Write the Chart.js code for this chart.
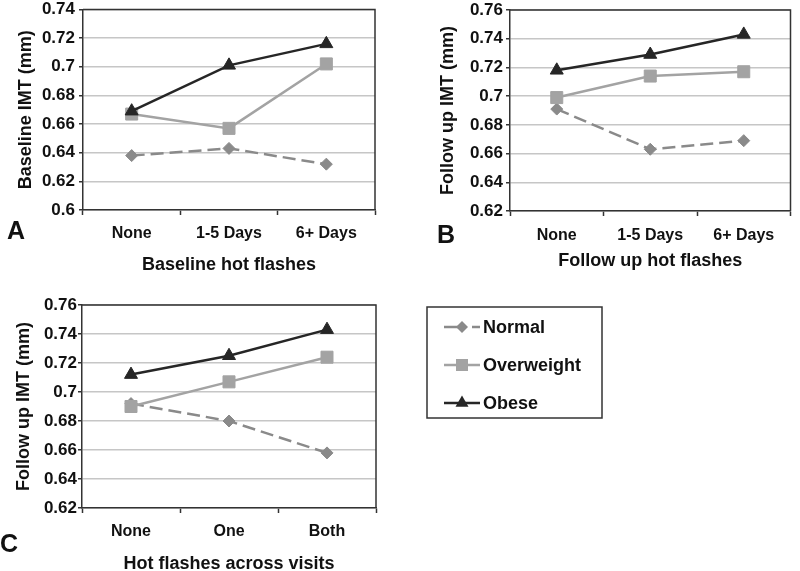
<!DOCTYPE html>
<html><head><meta charset="utf-8">
<script src="https://cdn.jsdelivr.net/npm/chart.js@4.4.1/dist/chart.umd.min.js"></script>
<style>
html,body{margin:0;padding:0;background:#fff;width:800px;height:571px;overflow:hidden;position:relative;}
canvas{position:absolute;display:block;}
</style></head><body>
<canvas id="cA" width="400" height="290" style="left:0;top:0"></canvas>
<canvas id="cB" width="400" height="290" style="left:400px;top:0"></canvas>
<canvas id="cC" width="800" height="290" style="left:0;top:290px"></canvas>
<script>
// ---- data ----
const seriesNames = ['Normal', 'Overweight', 'Obese'];
const catsA = ['None', '1-5 Days', '6+ Days'];
const catsB = ['None', '1-5 Days', '6+ Days'];
const catsC = ['None', 'One', 'Both'];
const normalA = [0.638, 0.643, 0.632];
const overweightA = [0.667, 0.657, 0.702];
const obeseA = [0.669, 0.701, 0.716];
const normalB = [0.691, 0.663, 0.669];
const overweightB = [0.699, 0.714, 0.717];
const obeseB = [0.718, 0.729, 0.743];
const normalC = [0.692, 0.680, 0.658];
const overweightC = [0.690, 0.707, 0.724];
const obeseC = [0.712, 0.725, 0.743];
const yRangeA = [0.60, 0.74];
const yRangeB = [0.62, 0.76];
const yRangeC = [0.62, 0.76];
const yStep = 0.02;
const titlesA = ['Baseline IMT (mm)', 'Baseline hot flashes', 'A'];
const titlesB = ['Follow up IMT (mm)', 'Follow up hot flashes', 'B'];
const titlesC = ['Follow up IMT (mm)', 'Hot flashes across visits', 'C'];

// ---- styles ----
const FONT = "'Liberation Sans', Arial, sans-serif";
const DARK = '#262626';
const styles = [
  {color: '#8a8a8a', point: 'rectRot', radius: 6, dash: [13, 6], order: 3},
  {color: '#a3a3a3', point: 'rect', radius: 8.5, dash: [], order: 2},
  {color: '#262626', point: 'triangle', radius: 7.5, dash: [], order: 1}
];

function buildDatasets(series) {
  return series.map((vals, i) => ({
    label: seriesNames[i],
    data: vals,
    borderColor: styles[i].color,
    backgroundColor: styles[i].color,
    borderWidth: 2.5,
    borderDash: styles[i].dash,
    pointStyle: styles[i].point,
    pointRadius: styles[i].radius,
    pointBackgroundColor: styles[i].color,
    pointBorderColor: styles[i].color,
    pointBorderWidth: 1,
    tension: 0,
    order: styles[i].order,
    clip: false
  }));
}

const framePlugin = {
  id: 'frame',
  beforeDatasetsDraw(chart) {
    const a = chart.chartArea, ctx = chart.ctx;
    ctx.save();
    ctx.strokeStyle = '#333';
    ctx.lineWidth = 1.5;
    ctx.beginPath();
    ctx.moveTo(a.left, a.top); ctx.lineTo(a.right, a.top); ctx.lineTo(a.right, a.bottom);
    ctx.stroke();
    ctx.restore();
  }
};

const letterPlugin = {
  id: 'letter',
  afterDraw(chart, args, opts) {
    const ctx = chart.ctx;
    ctx.save();
    ctx.font = 'bold 25px ' + FONT;
    ctx.fillStyle = '#111';
    ctx.textAlign = 'center';
    ctx.textBaseline = 'middle';
    ctx.fillText(opts.text, opts.x, opts.y);
    ctx.restore();
  }
};

function drawMarker(ctx, style, x, y, r) {
  ctx.beginPath();
  if (style === 'rectRot') {
    ctx.moveTo(x, y - r); ctx.lineTo(x + r, y); ctx.lineTo(x, y + r); ctx.lineTo(x - r, y);
  } else if (style === 'rect') {
    const s = r * Math.SQRT1_2;
    ctx.rect(x - s, y - s, 2 * s, 2 * s);
  } else {
    ctx.moveTo(x, y - r);
    ctx.lineTo(x + r * Math.sin(2 * Math.PI / 3), y - r * Math.cos(2 * Math.PI / 3));
    ctx.lineTo(x + r * Math.sin(4 * Math.PI / 3), y - r * Math.cos(4 * Math.PI / 3));
  }
  ctx.closePath();
  ctx.fill();
}

const legendPlugin = {
  id: 'boxLegend',
  afterDraw(chart, args, opts) {
    if (!opts.show) return;
    const ctx = chart.ctx;
    ctx.save();
    ctx.strokeStyle = '#333';
    ctx.lineWidth = 1.5;
    ctx.strokeRect(opts.x, opts.y, opts.w, opts.h);
    chart.data.datasets.forEach((ds, i) => {
      const yy = opts.y + opts.first + i * opts.gap;
      ctx.strokeStyle = ds.borderColor;
      ctx.fillStyle = ds.borderColor;
      ctx.lineWidth = 2.5;
      ctx.setLineDash(ds.borderDash.length ? [14, 14] : []);
      ctx.beginPath();
      ctx.moveTo(opts.x + 17, yy); ctx.lineTo(opts.x + 53, yy);
      ctx.stroke();
      ctx.setLineDash([]);
      drawMarker(ctx, ds.pointStyle, opts.x + 35, yy, ds.pointRadius);
      ctx.fillStyle = '#111';
      ctx.font = 'bold 18px ' + FONT;
      ctx.textAlign = 'left';
      ctx.textBaseline = 'middle';
      ctx.fillText(ds.label, opts.x + 56, yy + 1);
    });
    ctx.restore();
  }
};

function makeChart(id, cats, series, yRange, titles, g) {
  return new Chart(document.getElementById(id), {
    type: 'line',
    data: {labels: cats, datasets: buildDatasets(series)},
    plugins: [framePlugin, letterPlugin, legendPlugin],
    options: {
      responsive: false,
      animation: false,
      events: [],
      layout: {padding: {left: 0, top: g.top, right: g.right, bottom: 0}},
      plugins: {
        legend: {display: false},
        tooltip: {enabled: false},
        letter: {text: titles[2], x: g.lx, y: g.ly},
        boxLegend: g.legend || {show: false}
      },
      scales: {
        x: {
          offset: true,
          grid: {offset: true, drawOnChartArea: false, tickLength: 5, tickColor: '#333', tickWidth: 1.5},
          border: {display: true, color: '#333', width: 1.5},
          ticks: {color: '#111', font: {family: FONT, size: 16, weight: 'bold'}, padding: g.xtp, maxRotation: 0},
          title: {display: true, text: titles[1], color: '#111', font: {family: FONT, size: 18, weight: 'bold'}, padding: {top: 0, bottom: g.xttp}},
          afterFit(s) { s.height = g.xh; s.paddingLeft = 0; s.paddingRight = 0; }
        },
        y: {
          min: yRange[0], max: yRange[1],
          grid: {color: '#c6c6c6', lineWidth: 1.5, tickLength: 4, tickColor: '#333', drawTicks: true},
          border: {display: true, color: '#333', width: 1.5},
          ticks: {stepSize: yStep, color: '#111', font: {family: FONT, size: 17, weight: 'bold'}, padding: g.ytp,
                  callback: v => String(parseFloat(Number(v).toFixed(2)))},
          title: {display: true, text: titles[0], color: '#111', font: {family: FONT, size: 18, weight: 'bold'}, padding: {top: g.yttp, bottom: 0}},
          afterFit(s) { s.width = g.yw; s.paddingTop = 0; s.paddingBottom = 0; }
        }
      }
    }
  });
}

makeChart('cA', catsA, [normalA, overweightA, obeseA], yRangeA, titlesA,
  {top: 6, right: 25, yw: 83, xh: 80, xtp: 9, xttp: 14, ytp: 4, yttp: 15, lx: 16, ly: 232});
makeChart('cB', catsB, [normalB, overweightB, obeseB], yRangeB, titlesB,
  {top: 10, right: 2, yw: 110, xh: 79, xtp: 10, xttp: 18, ytp: 3, yttp: 37, lx: 46, ly: 236});
makeChart('cC', catsC, [normalC, overweightC, obeseC], yRangeC, titlesC,
  {top: 15, right: 424, yw: 82, xh: 72, xtp: 9, xttp: 5, ytp: 1, yttp: 13, lx: 9, ly: 255,
   legend: {show: true, x: 427, y: 17, w: 175, h: 111, first: 20, gap: 38}});
</script>
</body></html>
